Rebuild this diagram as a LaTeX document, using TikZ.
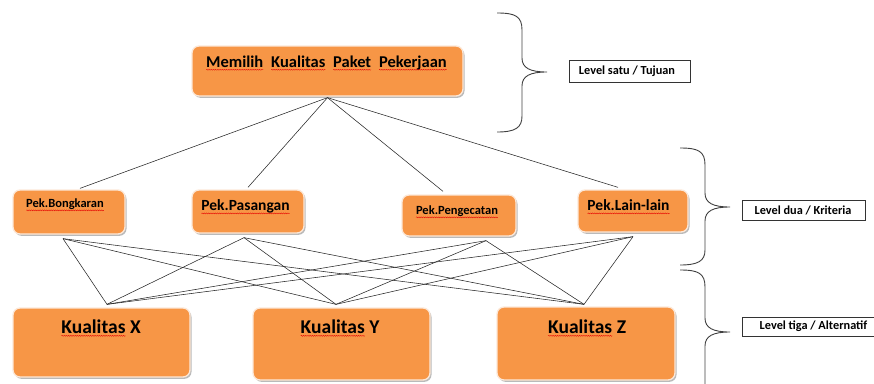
\documentclass[tikz,border=0pt]{standalone}
\usepackage{fontspec}
\setmainfont{Carlito}
\usetikzlibrary{shadows,calc,decorations.pathmorphing}
\definecolor{boxfill}{HTML}{F79646}
\definecolor{boxedge}{HTML}{FCE8D8}
\definecolor{bracecol}{HTML}{404040}
\newcommand\redwave[1]{\tikz[baseline=(w.base)]{\node[inner sep=0pt, outer sep=0pt] (w) {#1};
  \draw[red!90!black, line width=0.35pt, decorate, decoration={snake, amplitude=0.5pt, segment length=2.2pt}]
  ([yshift=-2.6pt]w.base west) -- ([yshift=-2.6pt]w.base east);}}
\tikzset{
  box/.style={rectangle, rounded corners=7pt, fill=boxfill, draw=boxedge, line width=1.3pt,
    inner sep=0pt, drop shadow={shadow xshift=1.5pt, shadow yshift=-1.8pt, fill=black!45, opacity=0.6}},
  txt/.style={inner sep=0pt, font=\bfseries, text=black},
  conn/.style={draw=black!85, line width=0.55pt},
  lvl/.style={rectangle, draw=black!80, line width=0.6pt, fill=white, inner sep=0pt},
  lvltxt/.style={inner sep=0pt, font=\bfseries\fontsize{12.3}{14}\selectfont},
  brace/.style={draw=bracecol, line width=0.9pt}
}
\begin{document}
\begin{tikzpicture}[x=1pt,y=-1pt]
\useasboundingbox (0,0) rectangle (874,383);
% level 1
\node[box, minimum width=271pt, minimum height=50pt] (top) at (327.5,71) {};
\node[txt, font=\bfseries\fontsize{16.5}{18}\selectfont] (toptxt) at (326.5,63) {\redwave{Memilih}\ \ \redwave{Kualitas}\ \ \redwave{Paket}\ \ \redwave{Pekerjaan}};
% level 2
\node[box, minimum width=112pt, minimum height=44pt] (b1) at (69,212) {};
\node[box, minimum width=112pt, minimum height=43pt] (b2) at (248,211.5) {};
\node[box, minimum width=114pt, minimum height=41pt] (b3) at (459,215.5) {};
\node[box, minimum width=110pt, minimum height=42pt] (b4) at (633,211) {};
\node[txt, font=\bfseries\fontsize{12.5}{14}\selectfont] (b1t) at (65,205) {\redwave{Pek.Bongkaran}};
\node[txt, font=\bfseries\fontsize{15.5}{17}\selectfont] (b2t) at (245.5,207) {\redwave{Pek.Pasangan}};
\node[txt, font=\bfseries\fontsize{12.5}{14}\selectfont] (b3t) at (457,212) {\redwave{Pek.Pengecatan}};
\node[txt, font=\bfseries\fontsize{15.5}{17}\selectfont] (b4t) at (628.5,207) {\redwave{Pek.Lain-lain}};
% level 3
\node[box, minimum width=177pt, minimum height=69pt] (c1) at (101.5,342.5) {};
\node[box, minimum width=177pt, minimum height=72pt] (c2) at (341.5,344) {};
\node[box, minimum width=178pt, minimum height=73pt] (c3) at (586,343.5) {};
\node[txt, font=\bfseries\fontsize{19.5}{22}\selectfont] (c1t) at (101,328) {\redwave{Kualitas} X};
\node[txt, font=\bfseries\fontsize{19.5}{22}\selectfont] (c2t) at (340,328) {\redwave{Kualitas} Y};
\node[txt, font=\bfseries\fontsize{19.5}{22}\selectfont] (c3t) at (587,328) {\redwave{Kualitas} Z};
% connectors level 1 -> level 2
\draw[conn] ([yshift=-1pt]top.south) -- ([xshift=11pt,yshift=1pt]b1.north);
\draw[conn] ([yshift=-1pt]top.south) -- ([yshift=2pt]b2.north);
\draw[conn] ([yshift=-1pt]top.south) -- ([xshift=-16pt,yshift=3pt]b3.north);
\draw[conn] ([yshift=-1pt]top.south) -- ([xshift=-15pt,yshift=2pt]b4.north);
% connectors level 2 -> level 3
\foreach \b/\s in {b1/-6, b2/-4, b3/27, b4/0}{
  \draw[conn] ([xshift=\s pt,yshift=-4pt]\b.south) -- ([xshift=5.5pt,yshift=3pt]c1.north);
  \draw[conn] ([xshift=\s pt,yshift=-4pt]\b.south) -- ([xshift=-5.5pt,yshift=3pt]c2.north);
  \draw[conn] ([xshift=\s pt,yshift=-4pt]\b.south) -- ([xshift=-2pt,yshift=2pt]c3.north);
}
% braces
\draw[brace] (497,13) .. controls (515,13) and (522,16) .. (522,30) -- (522,58)
  .. controls (522,68) and (530,72) .. (547,72)
  .. controls (530,72) and (522,76) .. (522,86) -- (522,116)
  .. controls (522,128) and (515,132) .. (497,132);
\draw[brace] (680,148) .. controls (698,148) and (705,151) .. (705,165) -- (705,193)
  .. controls (705,203) and (713,207) .. (730,207)
  .. controls (713,207) and (705,211) .. (705,221) -- (705,250)
  .. controls (705,261) and (698,265) .. (680,265);
\draw[brace] (680,270) .. controls (698,270) and (705,273) .. (705,287) -- (705,318)
  .. controls (705,328) and (713,332) .. (730,332)
  .. controls (713,332) and (705,336) .. (705,346) -- (705,390);
% level labels
\node[lvl, minimum width=121pt, minimum height=22pt] (l1) at (629.5,71) {};
\node[lvltxt] (l1t) at (627,71) {Level satu / Tujuan};
\node[lvl, minimum width=123pt, minimum height=20pt] (l2) at (803.5,210) {};
\node[lvltxt] (l2t) at (803,210) {Level dua / Kriteria};
\node[lvl, minimum width=143pt, minimum height=19pt] (l3) at (813.5,326.5) {};
\node[lvltxt] (l3t) at (813.5,326.5) {Level tiga / Alternatif};
\end{tikzpicture}
\end{document}
